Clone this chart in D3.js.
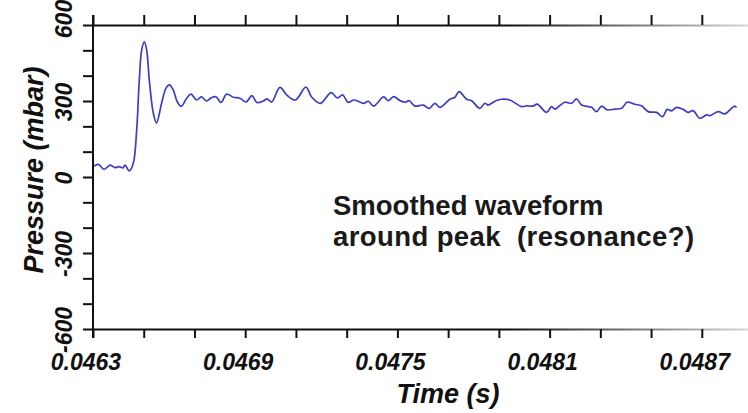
<!DOCTYPE html>
<html>
<head>
<meta charset="utf-8">
<script src="https://cdn.jsdelivr.net/npm/d3@7"></script>
<style>
  html, body { margin: 0; padding: 0; background: #fff; }
  svg { display: block; }
  text { font-family: "Liberation Sans", Arial, Helvetica, sans-serif; }
</style>
</head>
<body>
<svg id="chart" width="748" height="413"></svg>
<script>
// ---- data ----
const timeS = [
  0.0463039, 0.0463209, 0.0463434, 0.0463670, 0.0463867, 0.0464025, 0.0464182, 0.0464261,
  0.0464431, 0.0464588, 0.0464722, 0.0464825, 0.0464919, 0.0465022, 0.0465116, 0.0465219,
  0.0465376, 0.0465503, 0.0465707, 0.0465877, 0.0466015, 0.0466165, 0.0466322, 0.0466480,
  0.0466693, 0.0466862, 0.0467087, 0.0467268, 0.0467481, 0.0467650, 0.0467847, 0.0468044,
  0.0468269, 0.0468529, 0.0468793, 0.0469030, 0.0469266, 0.0469463, 0.0469712, 0.0469857,
  0.0470043, 0.0470370, 0.0470634, 0.0470980, 0.0471394, 0.0471619, 0.0471966, 0.0472387,
  0.0472636, 0.0472841, 0.0473050, 0.0473286, 0.0473495, 0.0473680, 0.0473850, 0.0474058,
  0.0474456, 0.0474638, 0.0474850, 0.0475099, 0.0475296, 0.0475465, 0.0475690, 0.0476017,
  0.0476254, 0.0476478, 0.0476675, 0.0477069, 0.0477266, 0.0477436, 0.0477728, 0.0477925,
  0.0478252, 0.0478449, 0.0478579, 0.0478882, 0.0479107, 0.0479434, 0.0479895, 0.0480092,
  0.0480352, 0.0480510, 0.0480880, 0.0481077, 0.0481207, 0.0481404, 0.0481602, 0.0481866,
  0.0482063, 0.0482260, 0.0482654, 0.0482851, 0.0483048, 0.0483269, 0.0483572, 0.0483836,
  0.0484057, 0.0484360, 0.0484624, 0.0484884, 0.0485215, 0.0485452, 0.0485633, 0.0485807,
  0.0486004, 0.0486264, 0.0486461, 0.0486658, 0.0486922, 0.0487186, 0.0487316, 0.0487643,
  0.0487907, 0.0488171, 0.0488301, 0.0488368
];
const pressureMbar = [
  43, 50, 30, 47, 37, 41, 36, 47,
  24, 54, 186, 383, 501, 533, 501, 383,
  253, 214, 292, 351, 364, 343, 297, 279,
  311, 327, 304, 316, 300, 312, 317, 294,
  327, 315, 311, 296, 321, 294, 300, 308,
  296, 354, 324, 304, 355, 316, 291, 333,
  312, 324, 295, 304, 297, 291, 299, 280,
  316, 301, 317, 302, 295, 301, 280, 284,
  271, 291, 275, 307, 315, 337, 307, 301,
  271, 291, 284, 301, 307, 304, 278, 281,
  280, 288, 255, 278, 268, 282, 295, 291,
  308, 284, 275, 258, 280, 265, 268, 271,
  295, 287, 281, 258, 255, 238, 267, 261,
  275, 267, 255, 262, 232, 245, 242, 258,
  249, 271, 280, 274
];
const xTicks = [0.0463, 0.0465, 0.0467, 0.0469, 0.0471, 0.0473, 0.0475, 0.0477, 0.0479, 0.0481, 0.0483, 0.0485, 0.0487];
const xTickLabels = ["0.0463", "0.0469", "0.0475", "0.0481", "0.0487"];
const yTicks = [-600, -500, -400, -300, -200, -100, 0, 100, 200, 300, 400, 500, 600];
const yTickLabels = [-600, -300, 0, 300, 600];
const xTitle = "Time (s)";
const yTitle = "Pressure (mbar)";
const noteLines = ["Smoothed waveform", "around peak  (resonance?)"];

// ---- layout ----
const svg = d3.select("#chart");
const mLeft = 93, mTop = 25, mBottom = 329, mRight = 750;
const x = d3.scaleLinear().domain([0.0463, 0.04889]).range([mLeft, mRight]);
const y = d3.scaleLinear().domain([-600, 600]).range([mBottom, mTop]);

const labelFont = "bold italic 23px 'Liberation Sans', Arial, sans-serif";

// fading gradient for the horizontal axis lines (as in the reference)
const grad = svg.append("defs").append("linearGradient")
  .attr("id", "fade").attr("gradientUnits", "userSpaceOnUse")
  .attr("x1", 0).attr("y1", 0).attr("x2", 748).attr("y2", 0);
grad.append("stop").attr("offset", 0.68).attr("stop-color", "#111");
grad.append("stop").attr("offset", 1).attr("stop-color", "#d8d8d8");

// top axis (ticks only)
const topAxis = svg.append("g").attr("transform", `translate(0,${mTop})`)
  .call(d3.axisTop(x).tickValues(xTicks).tickSize(10).tickSizeOuter(0).tickFormat(""));
// bottom axis
const botAxis = svg.append("g").attr("transform", `translate(0,${mBottom})`)
  .call(d3.axisBottom(x).tickValues(xTicks).tickSize(9).tickSizeOuter(0).tickFormat(""));
// left axis
const leftAxis = svg.append("g").attr("transform", `translate(${mLeft},0)`)
  .call(d3.axisLeft(y).tickValues(yTicks).tickSize(10).tickSizeOuter(0).tickFormat(""));

[topAxis, botAxis, leftAxis].forEach(g => {
  g.select(".domain").attr("stroke", "#111").attr("stroke-width", 2);
  g.selectAll(".tick line").attr("stroke", "#111").attr("stroke-width", 2);
});
topAxis.select(".domain").attr("stroke", "url(#fade)");
botAxis.select(".domain").attr("stroke", "url(#fade)");
leftAxis.select(".domain").attr("d", `M0,${mTop - 10}V${mBottom + 9}`);

// x tick labels
svg.append("g").selectAll("text")
  .data(xTickLabels)
  .join("text")
  .attr("x", d => x(+d) - 7)
  .attr("y", 370)
  .attr("text-anchor", "middle")
  .style("font", labelFont)
  .attr("fill", "#111")
  .text(d => d);

// y tick labels (rotated)
svg.append("g").selectAll("text")
  .data(yTickLabels)
  .join("text")
  .attr("transform", d => `translate(72,${d === 600 ? y(d) - 6 : y(d) + 1}) rotate(-90)`)
  .attr("text-anchor", "middle")
  .style("font", labelFont)
  .attr("fill", "#111")
  .text(d => d);

// axis titles
svg.append("text")
  .attr("x", 448).attr("y", 403)
  .attr("text-anchor", "middle")
  .style("font", "bold italic 27px 'Liberation Sans', Arial, sans-serif")
  .attr("fill", "#111")
  .text(xTitle);

svg.append("text")
  .attr("transform", "translate(43,170) rotate(-90)")
  .attr("text-anchor", "middle")
  .style("font", "bold italic 27px 'Liberation Sans', Arial, sans-serif")
  .attr("fill", "#111")
  .text(yTitle);

// annotation (one text block, two lines)
const note = svg.append("text")
  .attr("x", 333).attr("y", 215)
  .style("white-space", "pre")
  .style("font", "bold 27.5px 'Liberation Sans', Arial, sans-serif")
  .attr("fill", "#1a1a1a");
note.selectAll("tspan")
  .data(noteLines)
  .join("tspan")
  .attr("x", 333)
  .attr("dy", (d, i) => i === 0 ? 0 : 31)
  .style("letter-spacing", (d, i) => i === 0 ? "0px" : "0.4px")
  .text(d => d);

// waveform
const pts = timeS.map((t, i) => [t, pressureMbar[i]]);
svg.append("path")
  .datum(pts)
  .attr("fill", "none")
  .attr("stroke", "#3d3dc2")
  .attr("stroke-width", 1.7)
  .attr("stroke-linejoin", "round")
  .attr("d", d3.line().x(d => x(d[0])).y(d => y(d[1])).curve(d3.curveCatmullRom.alpha(0.5)));
</script>
</body>
</html>
